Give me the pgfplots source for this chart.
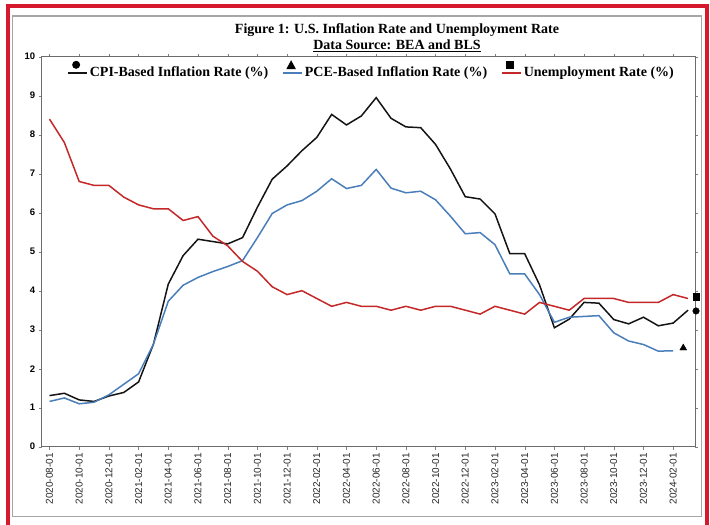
\documentclass[border=0pt]{standalone}
\usepackage{fontspec}
\setmainfont{Liberation Serif}
\setsansfont{Liberation Sans}
\usepackage{pgfplots}
\pgfplotsset{compat=1.18}
\definecolor{cpiblack}{RGB}{20,20,20}
\definecolor{pceblue}{RGB}{74,126,187}
\definecolor{unred}{RGB}{196,40,40}
\definecolor{framered}{RGB}{215,25,45}
\begin{document}
\begin{tikzpicture}[x=1pt,y=1pt]
\useasboundingbox (0,0) rectangle (710,525);
\draw[framered, line width=4pt] (8,-10) -- (8,519) -- (707,519) -- (707,-10);
\draw[gray!70, line width=1.5pt] (12.7,8.3) rectangle (701.7,509);
\node[font=\bfseries\fontsize{14}{16}\selectfont] at (397,495) {Figure 1: U.S. Inflation Rate and Unemployment Rate};
\node[font=\bfseries\fontsize{14}{16}\selectfont] at (397,479.5) {\underline{Data Source: BEA and BLS}};
\begin{axis}[
  at={(41.7pt,78.3pt)}, anchor=south west,
  scale only axis, width=653.3pt, height=390pt,
  xmin=-0.525, xmax=43.47, ymin=0, ymax=10,
  ytick={0,1,...,10},
  xtick={0,2,...,42},
  xticklabels={2020-08-01,2020-10-01,2020-12-01,2021-02-01,2021-04-01,2021-06-01,2021-08-01,2021-10-01,2021-12-01,2022-02-01,2022-04-01,2022-06-01,2022-08-01,2022-10-01,2022-12-01,2023-02-01,2023-04-01,2023-06-01,2023-08-01,2023-10-01,2023-12-01,2024-02-01},
  xticklabel style={rotate=90, anchor=east, font=\sffamily\fontsize{10}{11}\selectfont, text=black!85},
  yticklabel style={font=\sffamily\bfseries\fontsize{9.5}{10}\selectfont},
  /pgf/number format/assume math mode=true,
  tick align=outside, major tick length=3pt,
  tick style={gray},
  axis line style={gray!85!black, line width=1pt},
  clip=false,
  legend columns=3,
  legend cell align=left,
  legend style={draw=none, fill=none, at={(axis description cs:0.505,0.995)}, anchor=north,
    font=\bfseries\fontsize{14}{15}\selectfont, inner xsep=0pt,
    /tikz/every even column/.append style={column sep=12pt}},
]
\addplot[cpiblack, line width=1.5pt,
  legend image code/.code={\draw[line width=1.5pt] (0pt,0pt) -- (19pt,0pt); \fill[black] (8pt,8pt) circle (3.2pt);}]
coordinates {
(0,1.31)(1,1.37)(2,1.20)(3,1.16)(4,1.30)(5,1.39)(6,1.66)(7,2.63)(8,4.17)(9,4.90)
(10,5.32)(11,5.26)(12,5.20)(13,5.36)(14,6.14)(15,6.86)(16,7.20)(17,7.59)(18,7.93)(19,8.52)
(20,8.25)(21,8.48)(22,8.95)(23,8.42)(24,8.20)(25,8.18)(26,7.75)(27,7.12)(28,6.41)(29,6.35)
(30,5.97)(31,4.95)(32,4.95)(33,4.15)(34,3.05)(35,3.27)(36,3.70)(37,3.68)(38,3.26)(39,3.15)
(40,3.32)(41,3.10)(42,3.17)(43,3.50)};
\addlegendentry{CPI-Based Inflation Rate (\%)}
\addplot[pceblue, line width=1.5pt,
  legend image code/.code={\draw[line width=1.5pt] (0pt,0pt) -- (19pt,0pt); \fill[black] (4.5pt,4.5pt) -- (11.5pt,4.5pt) -- (8pt,11pt) -- cycle;}]
coordinates {
(0,1.16)(1,1.25)(2,1.10)(3,1.14)(4,1.33)(5,1.60)(6,1.87)(7,2.63)(8,3.73)(9,4.14)
(10,4.34)(11,4.49)(12,4.62)(13,4.77)(14,5.36)(15,5.98)(16,6.20)(17,6.31)(18,6.55)(19,6.87)
(20,6.62)(21,6.70)(22,7.11)(23,6.63)(24,6.51)(25,6.55)(26,6.33)(27,5.91)(28,5.46)(29,5.49)
(30,5.18)(31,4.43)(32,4.43)(33,3.90)(34,3.19)(35,3.32)(36,3.34)(37,3.36)(38,2.92)(39,2.71)
(40,2.62)(41,2.45)(42,2.46)};
\addlegendentry{PCE-Based Inflation Rate (\%)}
\addplot[unred, line width=1.5pt,
  legend image code/.code={\draw[line width=1.5pt] (0pt,0pt) -- (19pt,0pt); \fill[black] (4.5pt,4.5pt) rectangle (11pt,11pt);}]
coordinates {
(0,8.40)(1,7.80)(2,6.80)(3,6.70)(4,6.70)(5,6.40)(6,6.20)(7,6.10)(8,6.10)(9,5.80)
(10,5.90)(11,5.40)(12,5.15)(13,4.75)(14,4.50)(15,4.10)(16,3.90)(17,4.00)(18,3.80)(19,3.60)
(20,3.70)(21,3.60)(22,3.60)(23,3.50)(24,3.60)(25,3.50)(26,3.60)(27,3.60)(28,3.50)(29,3.40)
(30,3.60)(31,3.50)(32,3.40)(33,3.70)(34,3.60)(35,3.50)(36,3.80)(37,3.80)(38,3.80)(39,3.70)
(40,3.70)(41,3.70)(42,3.90)(43,3.80)};
\addlegendentry{Unemployment Rate (\%)}
\addplot[only marks, mark=*, mark size=3.3pt, black, forget plot] coordinates {(43.54,3.48)};
\addplot[only marks, mark=square*, mark size=3.3pt, black, forget plot] coordinates {(43.54,3.84)};
\addplot[only marks, mark=triangle*, mark size=4pt, black, forget plot] coordinates {(42.68,2.53)};
\end{axis}
\end{tikzpicture}
\end{document}
